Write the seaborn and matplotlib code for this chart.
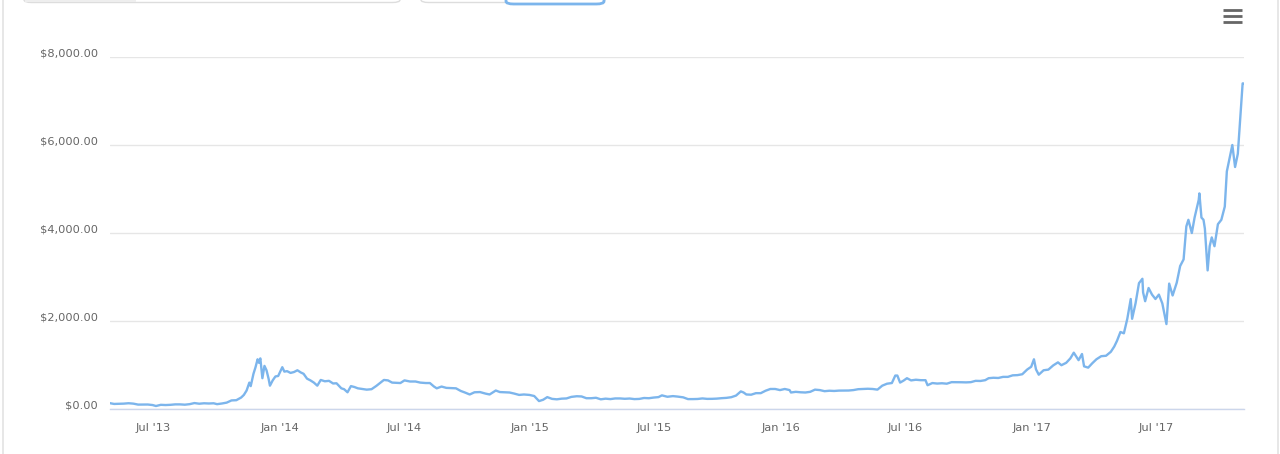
import matplotlib
matplotlib.use("Agg")
import matplotlib.pyplot as plt
from matplotlib.patches import FancyBboxPatch, Rectangle
from matplotlib.lines import Line2D
from matplotlib.transforms import ScaledTranslation
import seaborn as sns
import pandas as pd

# ---- data ----
dates = [
    "2013-04-28", "2013-05-05", "2013-05-12", "2013-05-19", "2013-05-26", "2013-06-02", "2013-06-09",
    "2013-06-16", "2013-06-23", "2013-06-30", "2013-07-05", "2013-07-12", "2013-07-19", "2013-07-26",
    "2013-08-02", "2013-08-09", "2013-08-16", "2013-08-23", "2013-08-30", "2013-09-06", "2013-09-13",
    "2013-09-20", "2013-09-27", "2013-10-02", "2013-10-09", "2013-10-16", "2013-10-23", "2013-10-30",
    "2013-11-06", "2013-11-10", "2013-11-14", "2013-11-18", "2013-11-20", "2013-11-24", "2013-11-27",
    "2013-11-30", "2013-12-02", "2013-12-04", "2013-12-07", "2013-12-10", "2013-12-13", "2013-12-16",
    "2013-12-18", "2013-12-22", "2013-12-26", "2013-12-30", "2014-01-05", "2014-01-08", "2014-01-12",
    "2014-01-17", "2014-01-22", "2014-01-27", "2014-02-01", "2014-02-05", "2014-02-10", "2014-02-15",
    "2014-02-20", "2014-02-25", "2014-03-02", "2014-03-08", "2014-03-14", "2014-03-20", "2014-03-25",
    "2014-04-01", "2014-04-05", "2014-04-10", "2014-04-15", "2014-04-20", "2014-04-25", "2014-05-01",
    "2014-05-08", "2014-05-15", "2014-05-22", "2014-05-27", "2014-06-02", "2014-06-08", "2014-06-14",
    "2014-06-20", "2014-06-26", "2014-07-02", "2014-07-10", "2014-07-18", "2014-07-25", "2014-08-02",
    "2014-08-08", "2014-08-14", "2014-08-18", "2014-08-25", "2014-09-01", "2014-09-08", "2014-09-15",
    "2014-09-22", "2014-09-28", "2014-10-05", "2014-10-12", "2014-10-20", "2014-10-28", "2014-11-03",
    "2014-11-12", "2014-11-18", "2014-11-25", "2014-12-02", "2014-12-09", "2014-12-16", "2014-12-23",
    "2014-12-31", "2015-01-07", "2015-01-14", "2015-01-20", "2015-01-26", "2015-02-02", "2015-02-09",
    "2015-02-16", "2015-02-23", "2015-03-02", "2015-03-10", "2015-03-17", "2015-03-24", "2015-03-31",
    "2015-04-07", "2015-04-14", "2015-04-21", "2015-04-28", "2015-05-05", "2015-05-12", "2015-05-19",
    "2015-05-26", "2015-06-02", "2015-06-09", "2015-06-16", "2015-06-23", "2015-06-30", "2015-07-07",
    "2015-07-12", "2015-07-20", "2015-07-28", "2015-08-04", "2015-08-12", "2015-08-19", "2015-08-26",
    "2015-09-02", "2015-09-09", "2015-09-16", "2015-09-23", "2015-09-30", "2015-10-07", "2015-10-14",
    "2015-10-21", "2015-10-28", "2015-11-04", "2015-11-08", "2015-11-12", "2015-11-19", "2015-11-26",
    "2015-12-03", "2015-12-10", "2015-12-17", "2015-12-24", "2015-12-31", "2016-01-07", "2016-01-14",
    "2016-01-16", "2016-01-23", "2016-01-30", "2016-02-06", "2016-02-13", "2016-02-20", "2016-02-27",
    "2016-03-05", "2016-03-12", "2016-03-19", "2016-03-26", "2016-04-02", "2016-04-09", "2016-04-16",
    "2016-04-23", "2016-04-30", "2016-05-07", "2016-05-14", "2016-05-21", "2016-05-28", "2016-06-04",
    "2016-06-11", "2016-06-16", "2016-06-19", "2016-06-23", "2016-06-28", "2016-07-03", "2016-07-09",
    "2016-07-16", "2016-07-23", "2016-07-30", "2016-08-02", "2016-08-09", "2016-08-16", "2016-08-23",
    "2016-08-30", "2016-09-06", "2016-09-13", "2016-09-20", "2016-09-27", "2016-10-04", "2016-10-11",
    "2016-10-18", "2016-10-25", "2016-10-30", "2016-11-06", "2016-11-13", "2016-11-20", "2016-11-27",
    "2016-12-04", "2016-12-11", "2016-12-18", "2016-12-25", "2016-12-31", "2017-01-04", "2017-01-07",
    "2017-01-11", "2017-01-18", "2017-01-25", "2017-02-01", "2017-02-08", "2017-02-13", "2017-02-20",
    "2017-02-26", "2017-03-03", "2017-03-10", "2017-03-15", "2017-03-18", "2017-03-24", "2017-03-30",
    "2017-04-05", "2017-04-12", "2017-04-19", "2017-04-26", "2017-05-01", "2017-05-05", "2017-05-10",
    "2017-05-15", "2017-05-20", "2017-05-25", "2017-05-27", "2017-06-01", "2017-06-06", "2017-06-11",
    "2017-06-12", "2017-06-15", "2017-06-20", "2017-06-25", "2017-06-30", "2017-07-05", "2017-07-10",
    "2017-07-16", "2017-07-20", "2017-07-25", "2017-07-31", "2017-08-05", "2017-08-10", "2017-08-14",
    "2017-08-17", "2017-08-22", "2017-08-26", "2017-09-01", "2017-09-02", "2017-09-05", "2017-09-08",
    "2017-09-10", "2017-09-14", "2017-09-17", "2017-09-20", "2017-09-24", "2017-09-29", "2017-10-04",
    "2017-10-09", "2017-10-12", "2017-10-16", "2017-10-20", "2017-10-24", "2017-10-28", "2017-11-01",
    "2017-11-04", "2017-11-05",
]
prices = [
    135, 115, 118, 122, 131, 122, 100,
    100, 102, 90, 68, 95, 90, 95,
    105, 105, 98, 110, 135, 120, 130,
    125, 130, 110, 125, 145, 195, 200,
    260, 320, 420, 600, 520, 800, 950,
    1130, 1050, 1150, 700, 980, 880, 690,
    530, 650, 740, 750, 950, 850, 860,
    820, 840, 880, 830, 800, 690, 650,
    600, 530, 660, 630, 640, 580, 585,
    470, 450, 380, 520, 500, 470, 455,
    440, 450, 525, 585, 660, 650, 600,
    595, 590, 650, 625, 625, 600, 590,
    590, 510, 470, 510, 480, 475, 470,
    410, 375, 330, 380, 385, 350, 330,
    420, 385, 380, 375, 350, 320, 330,
    320, 295, 180, 210, 270, 230, 220,
    235, 240, 275, 290, 285, 245, 245,
    255, 220, 235, 225, 240, 240, 232,
    238, 225, 229, 250, 245, 260, 270,
    310, 278, 293, 282, 265, 225, 225,
    228, 240, 230, 231, 236, 246, 253,
    268, 305, 400, 375, 330, 325, 360,
    360, 415, 455, 455, 430, 455, 430,
    375, 390, 380, 375, 390, 440, 430,
    405, 415, 410, 418, 420, 420, 430,
    450, 455, 460, 455, 440, 530, 575,
    590, 760, 760, 600, 645, 700, 650,
    665, 655, 655, 540, 590, 578, 585,
    575, 610, 610, 608, 605, 610, 640,
    637, 655, 700, 710, 705, 730, 730,
    765, 770, 790, 895, 960, 1130, 900,
    780, 880, 895, 990, 1060, 995, 1050,
    1150, 1280, 1110, 1250, 970, 940, 1040,
    1130, 1200, 1210, 1300, 1420, 1550, 1750,
    1720, 2050, 2500, 2050, 2400, 2860, 2960,
    2650, 2450, 2750, 2600, 2500, 2600, 2400,
    1930, 2850, 2580, 2870, 3250, 3400, 4150,
    4300, 4000, 4350, 4750, 4900, 4350, 4300,
    4100, 3150, 3700, 3900, 3700, 4200, 4300,
    4600, 5400, 5700, 6000, 5500, 5800, 6700,
    7400, 7400,
]
y_ticks = [0, 2000, 4000, 6000, 8000]
x_tick_dates = ["2013-07-01", "2014-01-01", "2014-07-01", "2015-01-01", "2015-07-01",
                "2016-01-01", "2016-07-01", "2017-01-01", "2017-07-01"]
x_tick_labels = ["Jul '13", "Jan '14", "Jul '14", "Jan '15", "Jul '15",
                 "Jan '16", "Jul '16", "Jan '17", "Jul '17"]

df = pd.DataFrame({"date": pd.to_datetime(dates), "price": prices})

sns.set_style("white")
plt.rcParams["font.family"] = ["DejaVu Sans"]

W, H = 1280, 454
fig = plt.figure(figsize=(W / 100, H / 100), dpi=100)
fig.patch.set_facecolor("white")

ax_left, ax_right, ax_top, ax_bottom = 110, 1244, 57, 409
ax = fig.add_axes([ax_left / W, 1 - ax_bottom / H, (ax_right - ax_left) / W, (ax_bottom - ax_top) / H])

sns.lineplot(data=df, x="date", y="price", ax=ax, color="#7cb5ec", linewidth=1.7)

ax.set_xlim(pd.Timestamp("2013-04-29"), pd.Timestamp("2017-11-06"))
ax.set_ylim(0, 8000)
ax.set_xlabel("")
ax.set_ylabel("")

ax.set_yticks(y_ticks)
ax.set_yticklabels(["${:,.2f}".format(v) for v in y_ticks])
ax.set_xticks(pd.to_datetime(x_tick_dates))
ax.set_xticklabels(x_tick_labels)

ax.grid(axis="y", color="#e6e6e6", linewidth=1)
ax.set_axisbelow(True)
for s in ["top", "right", "left"]:
    ax.spines[s].set_visible(False)
ax.spines["bottom"].set_color("#ccd6eb")
ax.spines["bottom"].set_linewidth(1)

ax.tick_params(axis="x", length=7.2, width=0.8, color="#ccd6eb", labelcolor="#666666",
               labelsize=8.2, pad=3.0, direction="out")
ax.tick_params(axis="y", length=0, labelcolor="#666666", labelsize=8.2, pad=8.5)
for lab in ax.get_yticklabels():
    lab.set_transform(lab.get_transform() + ScaledTranslation(0, 5 / 100, fig.dpi_scale_trans))

# ---- page decorations around the chart ----
def fx(px):
    return px / W

def fy(py):
    return 1 - py / H

fig.add_artist(Line2D([fx(3), fx(3)], [0, 1], color="#e3e3e3", linewidth=1.2))
fig.add_artist(Line2D([fx(1277.5), fx(1277.5)], [0, 1], color="#e3e3e3", linewidth=1.2))

# range selector boxes (partially visible at top)
box1 = FancyBboxPatch((fx(24), fy(2.5)), fx(376), 30 / H, boxstyle="round,pad=0,rounding_size=0.006",
                      transform=fig.transFigure, facecolor="white", edgecolor="#dddddd", linewidth=1.0)
fig.add_artist(box1)
fig.add_artist(Rectangle((fx(25), fy(1.8)), fx(111), 2 / H, transform=fig.transFigure,
                         facecolor="#eeeeee", edgecolor="none"))
box2 = FancyBboxPatch((fx(421), fy(2.5)), fx(184), 30 / H, boxstyle="round,pad=0,rounding_size=0.006",
                      transform=fig.transFigure, facecolor="white", edgecolor="#dddddd", linewidth=1.0)
fig.add_artist(box2)
box3 = FancyBboxPatch((fx(506), fy(4)), fx(98), 30 / H, boxstyle="round,pad=0,rounding_size=0.006",
                      transform=fig.transFigure, facecolor="white", edgecolor="#7cb5ec", linewidth=2.0)
fig.add_artist(box3)

# hamburger menu icon
for py in [9.5, 15.5, 21.5]:
    fig.add_artist(Line2D([fx(1223), fx(1242)], [fy(py), fy(py)], color="#666666",
                          linewidth=2.0, solid_capstyle="butt"))

fig.savefig("out.png", dpi=100, facecolor="white")
